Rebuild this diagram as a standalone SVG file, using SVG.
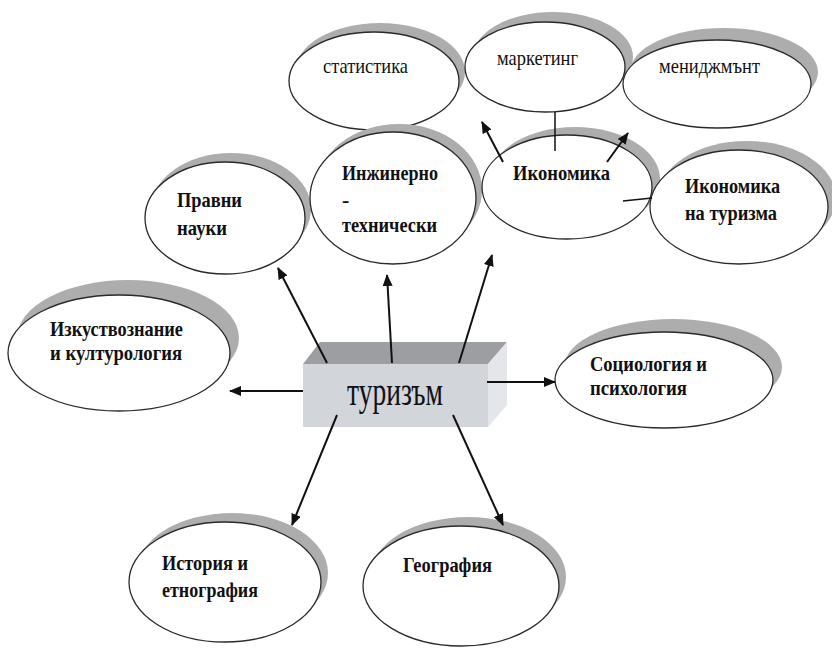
<svg xmlns="http://www.w3.org/2000/svg" width="832" height="649" viewBox="0 0 832 649">
<defs>
<style>
.sh{fill:#adadad;stroke:none}
.el{fill:#ffffff;stroke:#2a2a2a;stroke-width:1.3}
.lb{font-family:'Liberation Serif','DejaVu Serif',serif;font-size:22px;font-weight:bold;fill:#111}
.lr{font-family:'Liberation Serif','DejaVu Serif',serif;font-size:22px;fill:#111}
.big{font-family:'Liberation Serif','DejaVu Serif',serif;font-size:40px;fill:#111}
.cn{stroke:#111;stroke-width:2;fill:none}
</style>
<marker id="ah" markerWidth="12" markerHeight="10" refX="11" refY="5" orient="auto" markerUnits="userSpaceOnUse">
<path d="M0,0 L12,5 L0,10 Z" fill="#111"/>
</marker>
</defs>
<rect width="832" height="649" fill="#ffffff"/>

<g id="statistika">
<ellipse class="sh" cx="380" cy="72" rx="85" ry="49"/>
<ellipse class="el" cx="374" cy="81" rx="85" ry="49"/>
<text class="lr" x="323" y="73" textLength="85" lengthAdjust="spacingAndGlyphs">статистика</text>
</g>
<g id="marketing">
<ellipse class="sh" cx="553" cy="57" rx="80" ry="45"/>
<ellipse class="el" cx="545" cy="67" rx="80" ry="45"/>
<text class="lr" x="497" y="65" textLength="81" lengthAdjust="spacingAndGlyphs">маркетинг</text>
</g>
<g id="menidzhmant">
<ellipse class="sh" cx="724" cy="72" rx="94" ry="44"/>
<ellipse class="el" cx="717" cy="84" rx="94" ry="44"/>
<text class="lr" x="659" y="73" textLength="101" lengthAdjust="spacingAndGlyphs">мениджмънт</text>
</g>
<g id="pravni">
<ellipse class="sh" cx="231" cy="209" rx="80" ry="56"/>
<ellipse class="el" cx="225" cy="218" rx="80" ry="56"/>
<text class="lb" x="177" y="207" textLength="65" lengthAdjust="spacingAndGlyphs">Правни</text>
<text class="lb" x="177" y="235" textLength="50" lengthAdjust="spacingAndGlyphs">науки</text>
</g>
<g id="inzhinerno">
<ellipse class="sh" cx="399" cy="190" rx="83" ry="66"/>
<ellipse class="el" cx="393" cy="198" rx="83" ry="66"/>
<text class="lb" x="342" y="180" textLength="96" lengthAdjust="spacingAndGlyphs">Инжинерно</text>
<text class="lb" x="342" y="207">-</text>
<text class="lb" x="342" y="232" textLength="95" lengthAdjust="spacingAndGlyphs">технически</text>
</g>
<g id="ikonomika">
<ellipse class="sh" cx="575" cy="179" rx="85" ry="52"/>
<ellipse class="el" cx="567" cy="187" rx="85" ry="52"/>
<text class="lb" x="513" y="180" textLength="97" lengthAdjust="spacingAndGlyphs">Икономика</text>
</g>
<g id="ikonomika-turizma">
<ellipse class="sh" cx="747" cy="198" rx="89" ry="57"/>
<ellipse class="el" cx="739" cy="207" rx="89" ry="57"/>
<text class="lb" x="685" y="193" textLength="95" lengthAdjust="spacingAndGlyphs">Икономика</text>
<text class="lb" x="685" y="220" textLength="92" lengthAdjust="spacingAndGlyphs">на туризма</text>
</g>
<g id="izkustvoznanie">
<ellipse class="sh" cx="128" cy="338" rx="111" ry="58"/>
<ellipse class="el" cx="119" cy="353" rx="111" ry="58"/>
<text class="lb" x="50" y="336" textLength="133" lengthAdjust="spacingAndGlyphs">Изкуствознание</text>
<text class="lb" x="50" y="360" textLength="132" lengthAdjust="spacingAndGlyphs">и културология</text>
</g>
<g id="sociologia">
<ellipse class="sh" cx="673" cy="367" rx="109" ry="48"/>
<ellipse class="el" cx="664" cy="380" rx="109" ry="48"/>
<text class="lb" x="590" y="371" textLength="117" lengthAdjust="spacingAndGlyphs">Социология и</text>
<text class="lb" x="590" y="395" textLength="97" lengthAdjust="spacingAndGlyphs">психология</text>
</g>
<g id="istoria">
<ellipse class="sh" cx="232" cy="573" rx="96" ry="60"/>
<ellipse class="el" cx="225" cy="582" rx="96" ry="60"/>
<text class="lb" x="162" y="570" textLength="86" lengthAdjust="spacingAndGlyphs">История и</text>
<text class="lb" x="162" y="597" textLength="96" lengthAdjust="spacingAndGlyphs">етнография</text>
</g>
<g id="geografia">
<ellipse class="sh" cx="468" cy="577" rx="98" ry="60"/>
<ellipse class="el" cx="461" cy="586" rx="98" ry="60"/>
<text class="lb" x="403" y="572" textLength="89" lengthAdjust="spacingAndGlyphs">География</text>
</g>

<g id="turizam">
<polygon points="303,364 320,342 507,342 488,364" fill="#9d9ea1"/>
<polygon points="488,364 507,342 507,405 488,427" fill="#e4e6e9"/>
<rect x="303" y="364" width="185" height="63" fill="#d2d5d9"/>
<text class="big" x="347" y="405" textLength="96" lengthAdjust="spacingAndGlyphs">туризъм</text>
</g>

<g id="connectors">
<line class="cn" x1="327" y1="363" x2="278" y2="268" marker-end="url(#ah)"/>
<line class="cn" x1="392" y1="363" x2="387" y2="275" marker-end="url(#ah)"/>
<line class="cn" x1="459" y1="363" x2="492" y2="255" marker-end="url(#ah)"/>
<line class="cn" x1="303" y1="391" x2="230" y2="391" marker-end="url(#ah)"/>
<line class="cn" x1="487" y1="382" x2="555" y2="382" marker-end="url(#ah)"/>
<line class="cn" x1="337" y1="415" x2="292" y2="525" marker-end="url(#ah)"/>
<line class="cn" x1="453" y1="415" x2="503" y2="525" marker-end="url(#ah)"/>
<line class="cn" x1="503" y1="162" x2="482" y2="122" marker-end="url(#ah)"/>
<line class="cn" x1="607" y1="162" x2="628" y2="133" marker-end="url(#ah)"/>
<line class="cn" x1="555" y1="112" x2="555" y2="151" style="stroke-width:1.5"/>
<line class="cn" x1="623" y1="201" x2="652" y2="198" style="stroke-width:1.5"/>
</g>
</svg>
